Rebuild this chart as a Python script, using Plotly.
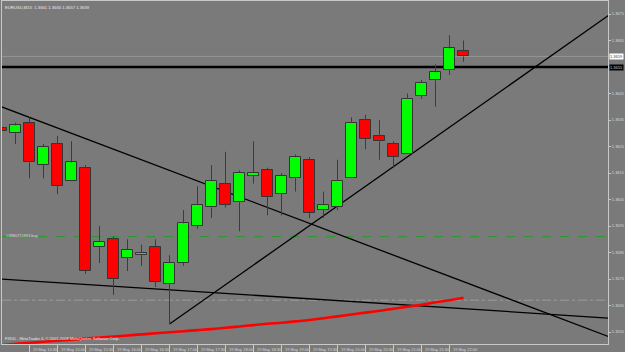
import plotly.graph_objects as go

# ---------------- data ----------------
candle_idx = list(range(34))
opens  = [1.3632, 1.3630, 1.3634, 1.3618, 1.3626, 1.3612, 1.3617, 1.3587, 1.3590, 1.3583,
          1.3584, 1.3587, 1.3573, 1.3581, 1.3595, 1.3602, 1.3611, 1.3604, 1.3614, 1.3616,
          1.3607, 1.3613, 1.3620, 1.3601, 1.3602, 1.3613, 1.3635, 1.3629, 1.3626, 1.3622,
          1.3644, 1.3650, 1.3654, 1.3661]
highs  = [1.3634, 1.3634, 1.3636, 1.3626, 1.3629, 1.3627, 1.3618, 1.3595, 1.3591, 1.3590,
          1.3588, 1.3590, 1.3584, 1.3601, 1.3610, 1.3618, 1.3623, 1.3616, 1.3627, 1.3617,
          1.3615, 1.3622, 1.3621, 1.3608, 1.3620, 1.3636, 1.3637, 1.3635, 1.3627, 1.3645,
          1.3650, 1.3656, 1.3667, 1.3665]
lows   = [1.3629, 1.3626, 1.3613, 1.3613, 1.3607, 1.3612, 1.3577, 1.3581, 1.3569, 1.3578,
          1.3580, 1.3572, 1.3558, 1.3580, 1.3594, 1.3598, 1.3602, 1.3593, 1.3611, 1.3599,
          1.3599, 1.3608, 1.3598, 1.3598, 1.3601, 1.3613, 1.3624, 1.3620, 1.3617, 1.3622,
          1.3643, 1.3640, 1.3652, 1.3657]
closes = [1.3631, 1.3633, 1.3619, 1.3625, 1.3610, 1.3619, 1.3578, 1.3589, 1.3575, 1.3586,
          1.3585, 1.3574, 1.3581, 1.3596, 1.3603, 1.3612, 1.3603, 1.3615, 1.3615, 1.3606,
          1.3614, 1.3621, 1.3600, 1.3603, 1.3612, 1.3634, 1.3628, 1.3627, 1.3621, 1.3643,
          1.3649, 1.3653, 1.3662, 1.3659]

# red indicator line (one value per candle)
indicator = [1.35501, 1.35505, 1.35509, 1.35513, 1.35517, 1.35521, 1.35525, 1.35529, 1.35533, 1.35537,
             1.35541, 1.35545, 1.35549, 1.35553, 1.35557, 1.35561, 1.35566, 1.35571, 1.35576, 1.35581,
             1.35585, 1.35590, 1.35595, 1.35602, 1.35609, 1.35616, 1.35623, 1.35630, 1.35638, 1.35645,
             1.35653, 1.35662, 1.35670, 1.35679]

time_label_idx = [0, 2, 4, 6, 8, 10, 12, 14, 16, 18, 20, 22, 24, 26, 28, 30, 32]
time_labels = ["19 May 2009", "19 May 14:30", "19 May 15:00", "19 May 15:30", "19 May 16:00",
               "19 May 16:30", "19 May 17:00", "19 May 17:30", "19 May 18:00", "19 May 18:30",
               "19 May 19:00", "19 May 19:30", "19 May 20:00", "19 May 20:30", "19 May 21:00",
               "19 May 21:30", "19 May 22:00"]

price_ticks = [1.3675, 1.3665, 1.3655, 1.3645, 1.3635, 1.3625, 1.3615, 1.3605,
               1.3595, 1.3585, 1.3575, 1.3565, 1.3555]
# 1.3655 is covered by the black line's price box
price_tick_text = ["1.3675", "1.3665", "", "1.3645", "1.3635", "1.3625", "1.3615", "1.3605",
                   "1.3595", "1.3585", "1.3575", "1.3565", "1.3555"]

# drawn objects (anchor candle index, price)
trend_down = [(2, 1.3636), (30, 1.3580)]
trend_up = [(12, 1.3558), (40, 1.3662)]
trend_flat = [(0, 1.3575), (40, 1.35614)]
hline_black = 1.3655
hline_bid = 1.3659
hline_order = 1.3591
hline_dashdot = 1.3567

title_text = "EURUSD,M15  1.3661 1.3665 1.3657 1.3659"
order_text = "#3880711863 buy"
copyright_text = "FXDD - MetaTrader 4, \u00a9 2001-2008 MetaQuotes Software Corp."

x_range = [0.0357, 43.32]
y_range = [1.355047, 1.367991]

BG = "#7a7a7a"
TXT = "#d8d8d8"
FONT = "Liberation Sans"
FS = 4.0

fig = go.Figure()

def add_line(p, start_x, end_x, color="#000000", width=1.3, dash="solid"):
    (x0, y0), (x1, y1) = p
    s = (y1 - y0) / (x1 - x0)
    fig.add_shape(type="line", xref="x", yref="y", layer="below",
                  x0=start_x, y0=y0 + s * (start_x - x0),
                  x1=end_x, y1=y0 + s * (end_x - x0),
                  line=dict(color=color, width=width, dash=dash))

add_line(trend_down, -1, x_range[1] + 1)
add_line(trend_up, trend_up[0][0], x_range[1] + 1)
add_line(trend_flat, -1, x_range[1] + 1)

for yv, col, w, d in [(hline_dashdot, "#9c9c9c", 1, "dashdot"),
                      (hline_order, "#2a9a2a", 1, "dash"),
                      (hline_bid, "#959595", 1, "solid"),
                      (hline_black, "#000000", 2.5, "solid")]:
    fig.add_shape(type="line", xref="paper", yref="y", layer="below",
                  x0=0, x1=1, y0=yv, y1=yv, line=dict(color=col, width=w, dash=d))

# candle bodies
body_base = [min(o, c) for o, c in zip(opens, closes)]
body_h = [max(abs(c - o), 0.00003) for o, c in zip(opens, closes)]
colors = ["#00ff00" if c >= o else "#ff0000" for o, c in zip(opens, closes)]

# wicks (two segments so they do not cross the bodies)
wx, wy = [], []
for i, h, l, b, bh in zip(candle_idx, highs, lows, body_base, body_h):
    top = b + bh
    if h > top:
        wx += [i, i, None]; wy += [h, top, None]
    if l < b:
        wx += [i, i, None]; wy += [b, l, None]
fig.add_trace(go.Scatter(x=wx, y=wy, mode="lines",
                         line=dict(color="#3c3c3c", width=1), hoverinfo="skip"))

fig.add_trace(go.Bar(x=candle_idx, y=body_h, base=body_base, width=0.79,
                     marker=dict(color=colors, line=dict(color="#353535", width=1)),
                     hoverinfo="skip"))

fig.add_trace(go.Scatter(x=candle_idx, y=indicator, mode="lines",
                         line=dict(color="#ff0000", width=2.6, shape="spline"),
                         hoverinfo="skip"))

# annotations
ann = []
for i, t in zip(time_label_idx, time_labels):
    ann.append(dict(x=i, y=0, xref="x", yref="paper", text=t, showarrow=False,
                    xanchor="left", yanchor="top", xshift=1, yshift=-1,
                    font=dict(family=FONT, size=FS, color=TXT)))
ann.append(dict(x=0, y=1, xref="paper", yref="paper", text=title_text, showarrow=False,
                xanchor="left", yanchor="top", xshift=1, yshift=-2,
                font=dict(family=FONT, size=FS + 0.2, color="#e8e8e8")))
ann.append(dict(x=0, y=hline_order, xref="paper", yref="y", text=order_text, showarrow=False,
                xanchor="left", yanchor="middle", xshift=2, yshift=1,
                font=dict(family=FONT, size=FS, color=TXT)))
ann.append(dict(x=0, y=0, xref="paper", yref="paper", text=copyright_text, showarrow=False,
                xanchor="left", yanchor="bottom", xshift=1, yshift=1,
                font=dict(family=FONT, size=FS, color="#e8e8e8")))
ann.append(dict(x=1, y=hline_black, xref="paper", yref="y", text="1.3655", showarrow=False,
                xanchor="left", yanchor="middle", xshift=1, bgcolor="#000000",
                borderpad=0, font=dict(family=FONT, size=FS, color="#c8c8c8")))
ann.append(dict(x=1, y=hline_bid, xref="paper", yref="y", text="1.3659", showarrow=False,
                xanchor="left", yanchor="middle", xshift=1, bgcolor="#ffffff",
                borderpad=0, font=dict(family=FONT, size=FS, color="#404040")))

fig.update_layout(
    width=625, height=352,
    margin=dict(l=2, r=17, t=1, b=8),
    paper_bgcolor=BG, plot_bgcolor=BG,
    showlegend=False, bargap=0,
    annotations=ann,
    xaxis=dict(range=x_range, showgrid=False, zeroline=False,
               showline=True, mirror=True, linecolor="#c8c8c8", linewidth=1,
               tickmode="array", tickvals=time_label_idx, ticktext=[""] * len(time_label_idx),
               ticks="outside", ticklen=7, tickcolor="#c8c8c8", tickwidth=1),
    yaxis=dict(range=y_range, side="right", showgrid=False, zeroline=False,
               showline=True, mirror=True, linecolor="#c8c8c8", linewidth=1,
               tickmode="array", tickvals=price_ticks, ticktext=price_tick_text,
               ticks="outside", ticklen=2, tickcolor="#c8c8c8",
               tickfont=dict(family=FONT, size=FS, color=TXT)),
)

fig.write_html("out.html")
